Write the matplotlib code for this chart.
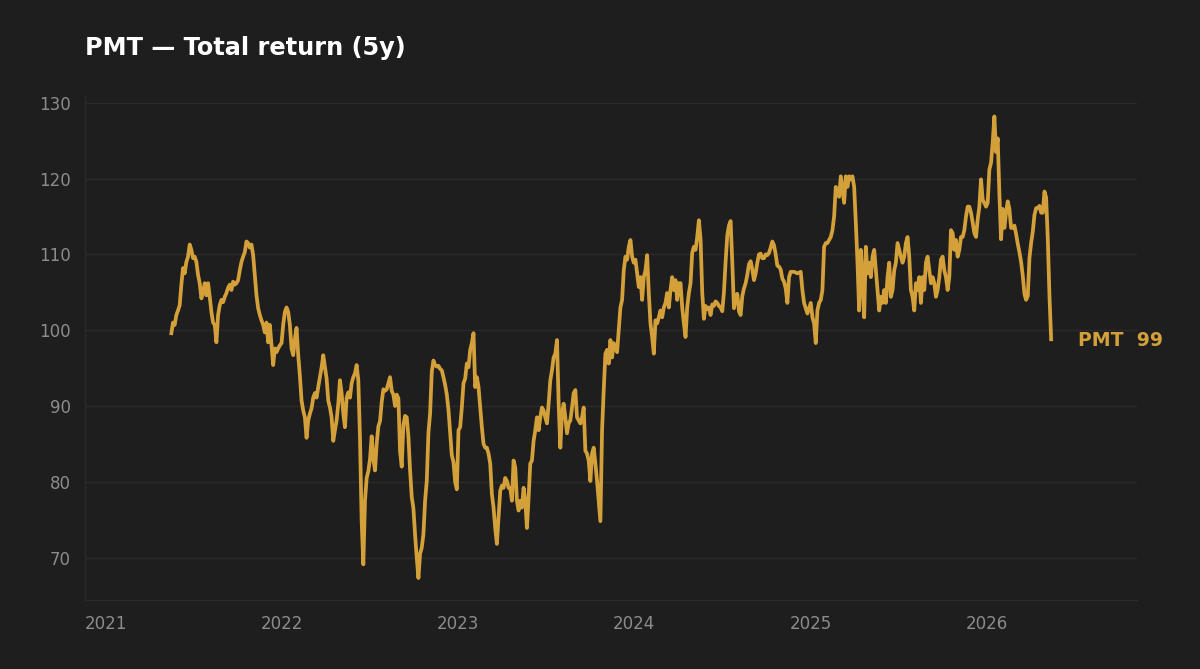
import numpy as np
import pandas as pd
import matplotlib
matplotlib.use("Agg")
import matplotlib.pyplot as plt
import matplotlib.dates as mdates

# PMT の総リターン（5年、開始=100）を画像から読み取った値
ticker = "PMT"
title = "PMT — Total return (5y)"
start_date = "2021-05-17"
end_date = "2026-05-15"

# 2021-05 .. 2021-12
seg_2021 = [
    99.6, 101.0, 100.7, 102.0, 102.6, 103.3, 106.0, 108.2, 107.5, 109.0,
    109.7, 111.3, 110.6, 109.5, 109.7, 109.0, 107.3, 106.2, 104.2, 105.0,
    106.2, 104.6, 106.2, 104.4, 102.4, 101.0, 100.7, 98.4, 102.0, 103.3,
    104.0, 103.7, 104.4, 104.9, 105.6, 106.0, 105.3, 106.4, 106.0, 106.2,
    106.6, 107.9, 109.0, 109.7, 110.3, 111.7, 111.5, 110.9, 111.3, 109.9,
    107.3, 104.6, 102.9, 102.0, 101.3, 100.7, 99.7, 101.0, 98.4, 100.7,
    98.0, 95.4, 97.6, 97.1, 97.6, 98.0, 98.3, 100.7, 102.4, 103.0,
    102.4, 100.7, 97.6, 96.7, 98.9, 100.3, 96.7, 94.0,
]
# 2022
seg_2022 = [
    90.7, 89.4, 88.5, 85.8, 88.1, 89.0, 89.7, 91.1, 91.7, 91.1,
    92.5, 93.8, 95.1, 96.7, 95.1, 93.6, 90.7, 89.8, 88.5, 85.4,
    86.8, 88.1, 90.3, 93.4, 91.7, 89.0, 87.2, 91.1, 91.8, 91.1,
    93.0, 93.8, 94.3, 95.4, 93.4, 85.8,
    74.8, 69.1, 77.5, 80.5, 81.4, 83.0, 86.0, 83.0, 81.5, 85.0,
    87.3, 88.0, 90.5, 92.2, 92.0, 92.2, 93.0, 93.8, 92.0, 91.5,
    90.0, 91.5, 91.0, 84.0, 82.0, 87.5, 88.7, 88.5, 86.0, 81.5,
    78.0, 76.5, 73.0, 70.0, 67.3, 70.5, 71.3, 73.1, 77.5, 80.1,
    86.5, 89.0, 94.5, 96.0, 95.4, 95.2, 95.3, 94.9, 94.7, 93.8,
    92.8, 91.5, 89.5, 86.5, 83.5, 82.6, 80.0, 79.0, 86.8,
]
# 2023
seg_2023 = [
    87.2, 89.8, 93.0, 93.6, 95.6, 95.1, 97.4, 98.3, 99.6, 92.5,
    93.8, 92.5, 89.8, 87.2, 85.0, 84.5, 84.5, 83.7, 82.4, 78.4,
    76.6, 73.9, 71.8, 75.2, 78.8, 79.5, 79.2, 80.5, 80.1, 79.2,
    79.2, 77.5, 82.8, 81.9, 77.5, 76.2, 77.5, 76.6, 79.2, 77.5,
    73.9, 77.9, 82.4, 82.8, 85.4, 86.8, 88.5, 86.8, 88.5, 89.8,
    89.4, 88.5, 87.7, 90.3, 93.4, 94.7, 96.4, 96.9, 98.7, 90.3,
    84.5, 89.0, 90.3, 88.5, 86.4, 87.7, 88.1, 89.8, 91.7, 92.1,
    88.5, 88.1, 87.7, 88.5, 89.8, 84.1, 83.7, 82.8, 80.1, 83.7,
    84.5, 82.4, 80.1, 77.5, 74.8, 86.8, 92.1, 96.9, 97.4, 95.6,
    98.7,
]
# 2024
seg_2024 = [
    96.4, 98.3, 97.7, 97.1, 100.0, 103.0, 104.0, 107.9, 109.7, 109.3,
    111.0, 111.9, 109.7, 108.9, 109.3, 107.5, 105.7, 107.0, 104.0, 107.0,
    107.9, 109.9, 104.9, 100.9, 99.1, 96.9, 101.3, 100.9, 101.7, 102.6,
    101.7, 103.0, 103.6, 104.9, 103.0, 105.3, 107.0, 105.3, 106.6, 104.0,
    106.2, 106.2, 103.0, 100.9, 99.1, 103.0, 104.9, 106.2, 110.2, 111.0,
    110.6, 112.3, 114.5, 112.0, 105.0, 101.5, 103.2, 102.8, 103.0, 102.0,
    103.4, 103.2, 103.8, 103.6, 103.2, 103.0, 102.5, 105.0, 109.0, 112.5,
    113.8, 114.4, 109.0, 102.9, 104.5, 104.8, 102.5, 102.0, 104.5, 105.5,
    106.2, 107.3, 108.7, 109.1, 108.0, 106.6, 107.5, 108.9, 110.0, 110.1,
    109.5, 109.5, 110.0, 109.9, 110.2, 110.9, 111.7, 111.2, 110.0, 108.5,
    108.4, 108.0, 106.8, 106.4, 105.5,
]
# 2024-11 .. 2026-05
seg_2025 = [
    103.6, 107.0, 107.7, 107.7, 107.7, 107.6, 107.5, 107.6, 107.7, 105.3,
    103.6, 102.9, 102.2, 102.9, 103.6, 101.7, 100.9, 98.3, 102.6, 103.6,
    104.0, 105.3, 111.0, 111.5, 111.5, 111.9, 112.3, 113.2, 115.0, 118.9,
    118.5, 117.6, 120.3, 118.5, 116.8, 120.3, 118.9, 120.3, 119.9, 120.3,
    118.9, 114.2, 108.9, 102.6, 110.6, 107.0, 101.7, 111.0, 107.5, 108.9,
    107.0, 109.7, 110.6, 107.9, 105.3, 102.6, 104.4, 103.6, 105.3, 103.6,
    107.0, 108.9, 104.4, 105.3, 107.9, 108.9, 111.5, 110.6, 109.7, 108.9,
    109.7, 111.5, 112.3, 109.7, 105.3, 104.4, 102.6, 106.2, 105.3, 107.0,
    103.6, 107.0, 105.3, 108.9, 109.7, 107.9, 106.2, 107.0, 106.2, 104.4,
    105.3, 107.0, 109.3, 109.7, 107.9, 107.0, 105.3, 107.0, 113.2, 112.8,
    110.6, 111.9, 109.7, 110.6, 112.3, 112.3, 113.2, 115.0, 116.3, 116.3,
    115.5, 114.2, 112.8, 112.3, 114.6, 116.3, 119.9, 117.2, 116.8, 116.3,
    116.8, 121.2, 122.1, 124.8, 128.2, 123.5, 125.3, 118.0, 112.0, 116.0,
    113.5, 115.5, 117.0, 116.0, 113.5, 113.5, 113.8, 112.7, 111.4, 110.3,
    109.0, 107.2, 104.8, 104.0, 104.5, 109.5, 111.5, 113.0, 115.2, 116.1,
    116.1, 116.4, 115.5, 115.5, 118.3, 117.5, 112.0, 104.5, 98.8,
]

values = seg_2021 + seg_2022 + seg_2023 + seg_2024 + seg_2025
dates = pd.date_range(start_date, end_date, periods=len(values))
year_ticks = [pd.Timestamp(f"{y}-01-01") for y in range(2021, 2027)]
y_ticks = [70, 80, 90, 100, 110, 120, 130]

bg = "#1e1e1e"
gold = "#d4a03a"
grid_c = "#2a2a2a"
tick_c = "#8c8c8c"

fig = plt.figure(figsize=(12, 6.69), dpi=100, facecolor=bg)
ax = fig.add_axes([85 / 1200, 1 - 600 / 669, (1137 - 85) / 1200, (600 - 96) / 669])
ax.set_facecolor(bg)

ax.plot(dates, values, color=gold, lw=2.7, solid_joinstyle="round")

ax.set_xlim(pd.Timestamp("2020-11-19"), pd.Timestamp("2026-11-09"))
ax.set_ylim(64.4, 130.9)
ax.set_xticks(year_ticks)
ax.xaxis.set_major_formatter(mdates.DateFormatter("%Y"))
ax.set_yticks(y_ticks)

ax.grid(axis="y", color=grid_c, lw=1)
ax.set_axisbelow(True)
for s in ["top", "right"]:
    ax.spines[s].set_visible(False)
for s in ["left", "bottom"]:
    ax.spines[s].set_color(grid_c)
    ax.spines[s].set_linewidth(1)

ax.tick_params(axis="both", length=0, labelsize=12, labelcolor=tick_c)
ax.tick_params(axis="y", pad=10)
ax.tick_params(axis="x", pad=11)

# 最終値のラベル
last = values[-1]
ax.annotate(f"{ticker}  {last:.0f}", xy=(dates[-1], last), xytext=(19, -1),
            textcoords="offset points", va="center", ha="left",
            color=gold, fontsize=13.6, fontweight="bold")

fig.text(85 / 1200, 1 - 55 / 669, title, color="#ffffff", fontsize=17.3,
         fontweight="bold", ha="left", va="baseline")

fig.savefig("out.png", dpi=100, facecolor=bg)
